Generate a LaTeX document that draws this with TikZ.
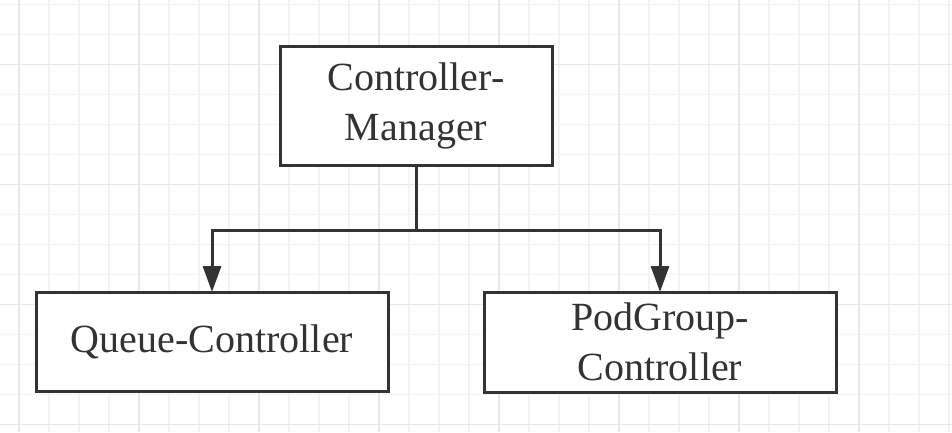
\documentclass[tikz,border=0pt]{standalone}
\usepackage{fontspec}
\setmainfont{Liberation Serif}
\usetikzlibrary{positioning,arrows.meta}

\definecolor{inkgrey}{HTML}{333333}
\definecolor{gridminor}{HTML}{F3F3F3}
\definecolor{gridmajor}{HTML}{E8E8E8}

\tikzset{
  box/.style={draw=inkgrey, line width=3pt, fill=white, text=inkgrey,
    font=\fontsize{40}{50}\selectfont, align=center, inner sep=0pt, outer sep=0pt},
  flow/.style={draw=inkgrey, line width=3pt, -{Triangle[width=18pt,length=26pt]}},
  stem/.style={draw=inkgrey, line width=3pt}
}

\begin{document}
\begin{tikzpicture}[x=1pt,y=-1pt]
  \useasboundingbox (0,0) rectangle (952,432);
  % grid paper
  \foreach \gx in {19,49,...,949}
    \draw[gridminor, line width=1.2pt] (\gx,0) -- (\gx,432);
  \foreach \gy in {4.5,34.5,...,430}
    \draw[gridminor, line width=1.2pt] (0,\gy) -- (952,\gy);
  \foreach \gx in {19,139,...,949}
    \draw[gridmajor, line width=1.4pt] (\gx,0) -- (\gx,432);
  \foreach \gy in {64.5,184.5,...,430}
    \draw[gridmajor, line width=1.4pt] (0,\gy) -- (952,\gy);

  \node[box, minimum width=272pt, minimum height=119pt] (cm) at (416,105.5) {Controller-\\Manager};
  \node[box, minimum width=352pt, minimum height=99pt, below=127pt of cm.south, xshift=-204pt] (qc) {Queue-Controller};
  \node[box, minimum width=352pt, minimum height=100pt, right=96pt of qc.north east, anchor=north west] (pgc) {PodGroup-\\Controller};
  \coordinate[below=65pt of cm.south] (split);

  \draw[stem] (cm.south) -- (split);
  \draw[flow] (split) -| (qc.north);
  \draw[flow] (split) -| (pgc.north);
\end{tikzpicture}
\end{document}
